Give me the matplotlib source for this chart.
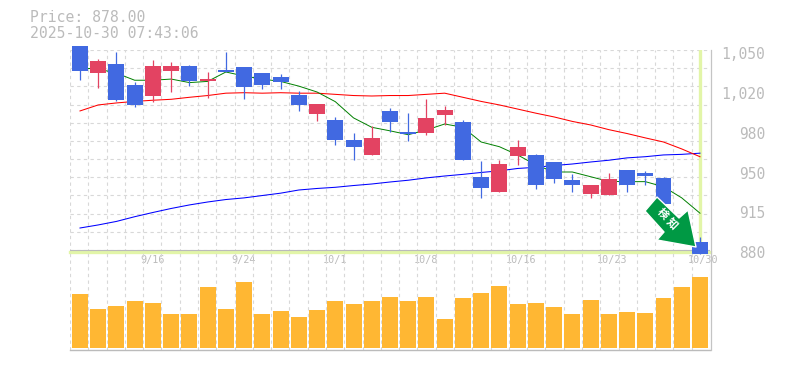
import numpy as np
import matplotlib
matplotlib.use("Agg")
import matplotlib.pyplot as plt
from matplotlib.patches import Polygon

# daily prices
opens = [1055, 1032, 1040, 1022, 1012.6, 1033.9, 1038, 1025, 1034.7, 1037, 1032, 1029,
         1013.5, 997.3, 992, 975, 962.5, 1000, 982, 981, 996.5, 990.5, 944, 931, 961.6,
         962.5, 956.5, 941, 929, 928.5, 950, 947, 943, 905.5, 888.5]
highs = [1055, 1044, 1050, 1024.5, 1043, 1041.5, 1039, 1033, 1050, 1037, 1032, 1031,
         1017, 1005.8, 995, 981, 987, 1002.4, 998, 1010, 1004, 992, 957, 958, 975,
         963, 956.5, 946, 937, 947, 950, 949, 944, 906, 893]
lows = [1026, 1019.7, 1008, 1003.5, 1007.8, 1016, 1021.4, 1011, 1033, 1010, 1018.5, 1018.5,
        1000, 991, 971, 958, 962.5, 982, 974.4, 979.5, 988, 958, 926, 931, 954,
        933.5, 938.6, 931, 926, 928.5, 931, 937, 921, 890, 878]
closes = [1034, 1042.4, 1009, 1005, 1038, 1038, 1025, 1027, 1033, 1020, 1022, 1024.5,
          1005, 1005.8, 975, 969, 977, 990.5, 980.3, 994, 1000.7, 958, 934.4, 954.8, 969,
          937, 942, 937, 937, 942, 937, 944.6, 921, 892, 878]
ma_short = [1036.4, 1035.6, 1032, 1026, 1026, 1027, 1024, 1025, 1033, 1029.6, 1027, 1025,
            1021, 1016, 1007.8, 994, 986, 983, 979.7, 983.7, 988.8, 986, 973.5, 969.5, 962.5,
            954, 948, 948, 944, 940, 939.8, 939.8, 935.5, 926, 913]
ma_mid = [999.9, 1005, 1006.7, 1008, 1009, 1009.8, 1011.5, 1013, 1015, 1015.4, 1015, 1015.4,
          1015, 1015, 1014, 1013, 1012.6, 1013, 1013, 1014, 1015, 1011.5, 1008, 1005, 1001.5,
          998, 994.8, 991, 988, 984, 980.7, 977, 973.5, 967.6, 961]
ma_long = [900.4, 903, 906, 910, 913.6, 917, 920, 922.5, 924.6, 926, 928, 930,
           932.7, 934, 935, 936.5, 937.8, 939.5, 941, 943, 944.6, 946, 947.6, 949, 951,
           952, 953.5, 954.8, 956.5, 958, 960, 961, 962.5, 963, 964]
volumes = [54.3, 39.3, 42.3, 47.3, 45.3, 34.3, 34.3, 61.3, 39.3, 66.3, 34.3, 37.3,
           31.3, 38.3, 47.3, 44.3, 47.3, 51.3, 47.3, 51.3, 29.3, 50.3, 55.3, 62.3, 44.3,
           45.3, 41.3, 34.3, 48.3, 34.3, 36.3, 35.3, 50.3, 61.3, 71.3]
date_pos = [4, 9, 14, 19, 24, 29, 34]
date_labels = ["9/16", "9/24", "10/1", "10/8", "10/16", "10/23", "10/30"]
price_ticks = [880, 914, 948, 982, 1016, 1050]
price_labels = ["880", "915", "950", "980", "1,020", "1,050"]

W, H = 785, 370
GRID = "#d8d8d8"
TEXT = "#bbbbbb"
LIME = "#e2f5a8"
UP = "#e34362"
DOWN = "#4169e1"
MONO = "DejaVu Sans Mono"


def px_axes(fig, left, top, right, bottom):
    return fig.add_axes([left / W, 1 - bottom / H, (right - left) / W, (bottom - top) / H])


fig = plt.figure(figsize=(W / 100, H / 100), dpi=100, facecolor="white")
ax = px_axes(fig, 70, 50, 710, 252)
vol = px_axes(fig, 70, 252, 710, 350)
xlim = (-0.548, 34.55)
grid_x = np.linspace(xlim[0], xlim[1], 36)
grid_y = 881.7 + 15.45 * np.arange(12)

for a in (ax, vol):
    a.set_xlim(xlim)
    a.patch.set_alpha(0)
    for s in a.spines.values():
        s.set_visible(False)
    a.set_xticks([])
    a.set_yticks([])
    for g in grid_x:
        a.axvline(g, color=GRID, lw=0.8, ls=(0, (3, 3)), zorder=0)

ax.set_ylim(880, 1051.7)
for g in grid_y:
    ax.axhline(g, color=GRID, lw=0.8, ls=(0, (3, 3)), zorder=0)

n = len(closes)
idx = np.arange(n)
ax.axvline(idx[-1], color=LIME, lw=2.4, zorder=1)
ax.axhline(879.6, color=LIME, lw=2.4, zorder=1, clip_on=False)
ax.axhline(881.9, color="#bbbbbb", lw=0.8, zorder=1)

ax.plot(idx, ma_long, color="#0000ff", lw=0.75, zorder=2, clip_on=False)
ax.plot(idx, ma_mid, color="#ff0000", lw=0.75, zorder=2, clip_on=False)
ax.plot(idx, ma_short, color="#008000", lw=0.7, zorder=2, clip_on=False)

for i in idx:
    c = UP if closes[i] >= opens[i] else DOWN
    ax.plot([i, i], [lows[i], highs[i]], color=c, lw=0.9, zorder=3, clip_on=False,
            solid_capstyle="butt")
    ax.bar(i, abs(closes[i] - opens[i]), bottom=min(opens[i], closes[i]), width=0.877,
           color=c, zorder=3, clip_on=False)

for p, s in zip(date_pos, date_labels):
    ax.annotate(s, (p, 880), xytext=(3 if len(s) > 4 else 0, -3), textcoords="offset pixels",
                ha="center", va="top", color=TEXT, family=MONO, fontsize=7.3,
                annotation_clip=False)
for p, s in zip(price_ticks, price_labels):
    ax.annotate(s, (34.55, p), xytext=(55, -2), textcoords="offset pixels", ha="right", va="center",
                color=TEXT, family=MONO, fontsize=10.5, annotation_clip=False)

vol.set_ylim(-2, 96)
vol.bar(idx, volumes, width=0.877, color="#ffb733", zorder=2)
vol.axhline(-2, color="#bbbbbb", lw=1, clip_on=False)

# right border
fig.add_artist(plt.Line2D([710.5 / W] * 2, [1 - 50 / H, 1 - 350 / H], color="#c4c4c4", lw=0.9))

# signal arrow, placed in figure pixels
arrow_px = [(657, 197), (645, 211), (664, 232), (657, 240), (696, 247), (688, 210), (679, 218)]
to_fig = [(x / W, 1 - y / H) for x, y in arrow_px]
fig.add_artist(Polygon(to_fig, closed=True, facecolor="#009944", edgecolor="white", lw=1,
                       joinstyle="round", transform=fig.transFigure, zorder=6))
for (cx, cy), ch in zip([(663, 214), (672, 224)], "検知"):
    fig.text(cx / W, 1 - cy / H, ch, color="white", fontsize=7.8, weight="bold", rotation=-45,
             ha="center", va="center", family=["Noto Sans CJK JP", "DejaVu Sans"], zorder=7)

fig.text(30 / W, 1 - 18 / H, "Price: 878.00", color=TEXT, family=MONO, fontsize=10.6, va="center")
fig.text(30 / W, 1 - 33 / H, "2025-10-30 07:43:06", color=TEXT, family=MONO, fontsize=10.6,
         va="center")

fig.savefig("out.png", dpi=100)
